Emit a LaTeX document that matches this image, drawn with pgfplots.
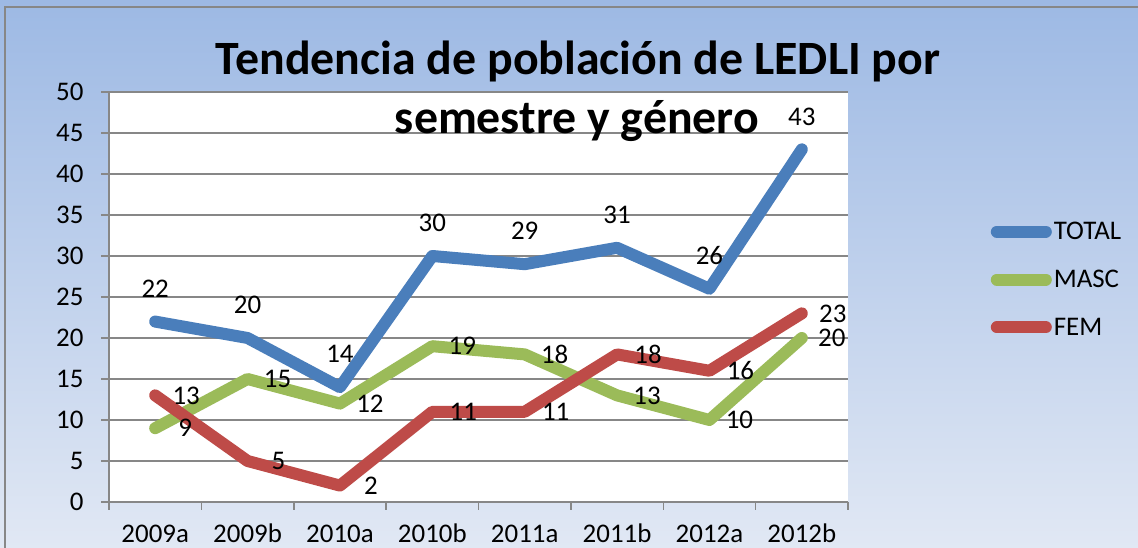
\documentclass[border=0pt]{standalone}
\usepackage{pgfplots}
\pgfplotsset{compat=1.18}
\usepackage{fontspec}
\setmainfont{Carlito}
\definecolor{cTot}{HTML}{4A7EBB}
\definecolor{cMasc}{HTML}{9BBB59}
\definecolor{cFem}{HTML}{BE4B48}
\definecolor{gridc}{HTML}{878787}
\definecolor{bgtop}{RGB}{157,185,228}
\definecolor{bgbot}{RGB}{225,232,244}
\begin{document}
\begin{tikzpicture}[x=1bp,y=1bp]
\clip (0,0) rectangle (1138,548);
\shade[top color=bgtop, bottom color=bgbot] (0,0) rectangle (1138,548);
\draw[gridc, line width=2bp] (5,-10) -- (5,541) -- (1150,541);
\begin{axis}[
  at={(109bp,46bp)}, anchor=south west,
  scale only axis, width=739bp, height=410bp,
  xmin=-0.5, xmax=7.5, ymin=0, ymax=50,
  axis x line=bottom, axis y line=left,
  axis line style={draw=gridc, line width=1.5bp, -},
  axis background/.style={fill=white},
  /pgf/number format/assume math mode=true,
  xtick={0,...,7},
  xticklabels={2009a,2009b,2010a,2010b,2011a,2011b,2012a,2012b},
  minor xtick={-0.5,0.5,...,7.5},
  ytick={0,5,...,50},
  ymajorgrids,
  major grid style={draw=gridc, line width=1.5bp},
  x tick style={draw=none},
  minor x tick style={draw=gridc, line width=1.5bp},
  y tick style={draw=gridc, line width=1.5bp},
  tick align=outside,
  major tick length=8bp, minor tick length=8bp,
  ticklabel style={font=\fontsize{27}{31}\selectfont, text=black},
  xticklabel style={text height=19bp, text depth=0bp, yshift=-10bp},
  yticklabel style={xshift=-14bp},
  every axis plot/.append style={line width=12bp, line cap=round, line join=round},
  nodes near coords,
  every node near coord/.append style={font=\fontsize{27}{31}\selectfont, text=black},
  legend style={at={(1.193,0.688)}, anchor=north west, draw=none, fill=none,
    font=\fontsize{27}{31}\selectfont, row sep=25bp, inner sep=0pt,
    /tikz/every even column/.append style={column sep=0pt}},
  legend cell align=left,
  legend image code/.code={\draw[#1, line width=12bp, line cap=round] (6bp,0bp) -- (55bp,0bp);},
  clip=false,
]
\addplot[cTot, every node near coord/.append style={anchor=center, yshift=33bp}] coordinates {(0,22) (1,20) (2,14) (3,30) (4,29) (5,31) (6,26) (7,43)};
\addlegendentry{TOTAL}
\addplot[cMasc, every node near coord/.append style={anchor=center, xshift=30bp}] coordinates {(0,9) (1,15) (2,12) (3,19) (4,18) (5,13) (6,10) (7,20)};
\addlegendentry{MASC}
\addplot[cFem, every node near coord/.append style={anchor=center, xshift=31bp}] coordinates {(0,13) (1,5) (2,2) (3,11) (4,11) (5,18) (6,16) (7,23)};
\addlegendentry{FEM}
\end{axis}
\node[font=\bfseries\fontsize{48}{56}\selectfont, anchor=base] at (578,473) {Tendencia de población de LEDLI por};
\node[font=\bfseries\fontsize{48}{56}\selectfont, anchor=base] at (577,414) {semestre y género};
\end{tikzpicture}
\end{document}
